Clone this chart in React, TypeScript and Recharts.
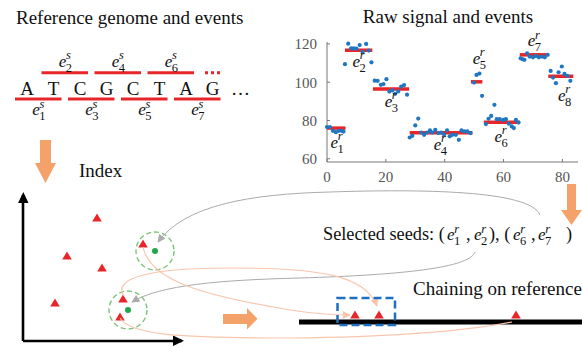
import React from 'react';
import { ScatterChart, Scatter, XAxis, YAxis, ReferenceLine } from 'recharts';

const SERIF = '"Liberation Serif", "Times New Roman", serif';
const RED = '#E8262A';
const BLUE = '#1F76C2';
const ORANGE = '#F4A26A';
const GREEN = '#1FA84A';
const GREEN_RING = '#7CC47C';
const SALMON = '#F8C6AE';
const GRAY = '#ABABAB';

// ---- Raw signal panel ----
const signalX = [
  0, 1, 2, 3, 4, 5, 5.6,
  6.1, 7.2, 8.2, 9.1, 10, 11.1, 12.1, 13.3, 14.2, 15.1,
  16.2, 17.2, 18.3, 19.2, 20.2, 21.2, 22.2, 23.2, 24.2, 25.2, 26.2, 27.2,
  28.1, 29, 30, 31, 32, 33, 34, 35, 35.8, 36.8, 37.9, 38.8, 39.8, 40.8, 41.7, 42.6, 43.8, 44.8, 45.7, 46.7, 47.7, 48.8,
  50, 50.8, 51.8, 52.7,
  54, 54.9, 55.8, 56.9, 57.7, 58.7, 59.9, 60.8, 61.8, 62.8, 63.5, 64.2, 65.1,
  65.8, 66.4, 67.1, 68, 68.9, 70, 71, 72, 73, 74, 75,
  76, 76.8, 77.8, 78.7, 79.8, 80.7, 81.7, 82.7,
];
const signalY = [
  76.6, 76.6, 74.6, 73.9, 74.6, 74.6, 74.2,
  109.4, 120.1, 117.7, 117.7, 117.5, 119.4, 115.8, 120, 116.5, 110.4,
  100.8, 100.7, 98.6, 99, 101.6, 95.1, 95.7, 93.9, 95.2, 97.7, 98.5, 93.5,
  71.1, 72, 77.4, 81, 73.7, 72.5, 73.7, 74.8, 73.7, 75.1, 73.4, 73.7, 72.5, 74.8, 71.7, 72.5, 72.5, 69.9, 74.8, 74.3, 74.3, 73.4,
  99.8, 103.8, 104.5, 92.9,
  78.1, 80.9, 82.4, 88.2, 80.7, 80.7, 80.3, 80.7, 78.3, 76.9, 76, 80.3, 78.9,
  112.5, 112, 111.7, 115.1, 113.4, 113, 113.7, 113, 113.4, 113, 114.3,
  105.9, 102.4, 99.5, 105.2, 108.2, 104.3, 103.3, 100.7,
];
const eventStart = [0, 6.1, 15.6, 28.1, 48.9, 53.3, 65.5, 75.2];
const eventEnd = [6.3, 15.4, 27.9, 49.4, 52.8, 65.5, 74.6, 83.7];
const eventLevel = [76.0, 116.7, 96.5, 73.6, 100.2, 79.1, 114.3, 103.1];
const eventLabelX = [1.2, 8.7, 19.6, 36.3, 49.5, 56.9, 68.2, 78.5];
const eventLabelY = [65.7, 108, 87.1, 64.7, 109.6, 68.9, 118.9, 90.3];
const xTicks = [0, 20, 40, 60, 80];
const yTicks = [60, 80, 100, 120];

// ---- Reference genome ----
const bases = ['A', 'T', 'C', 'G', 'C', 'T', 'A', 'G'];
const bottomEvents = [1, 3, 5, 7];
const topEvents = [2, 4, 6];

// ---- Index panel ----
const kmerX = [74, 44, 79, 32, 120, 100, 97];
const kmerY = [123, 85, 73, 38, 97, 42, 24];
const seedX = [132, 105];
const seedY = [90, 31];

// ---- Chaining panel ----
const chainX = [56, 80, 217];
const chainY = [7, 7, 7];

const signalData = signalX.map((x, i) => ({ x, y: signalY[i] }));
const labelData = eventLabelX.map((x, i) => ({ x, y: eventLabelY[i], idx: i + 1 }));
const kmerData = kmerX.map((x, i) => ({ x, y: kmerY[i] }));
const seedData = seedX.map((x, i) => ({ x, y: seedY[i] }));
const chainData = chainX.map((x, i) => ({ x, y: chainY[i] }));

function MathE({ x, y, sup, sub, size = 17 }: { x: number; y: number; sup: string; sub: string; size?: number }) {
  return (
    <g>
      <text x={x} y={y} fontFamily={SERIF} fontStyle="italic" fontSize={size} fill="#111">e</text>
      <text x={x + 7.2} y={y - 7.5} fontFamily={SERIF} fontStyle="italic" fontSize={12.5} fill="#111">{sup}</text>
      <text x={x + 7} y={y + 5} fontFamily={SERIF} fontSize={12.5} fill="#111">{sub}</text>
    </g>
  );
}

const dotShape = (p: any) => <circle cx={p.cx} cy={p.cy} r={2.1} fill={BLUE} />;
const labelShape = (p: any) => <MathE x={p.cx} y={p.cy} sup="r" sub={String(p.payload.idx)} />;
const triShape = (p: any) => (
  <path d={`M${p.cx},${p.cy - 4.5} L${p.cx + 4.8},${p.cy + 3.6} L${p.cx - 4.8},${p.cy + 3.6} Z`} fill={RED} />
);
const seedShape = (p: any) => (
  <g>
    <circle cx={p.cx} cy={p.cy} r={19} fill="none" stroke={GREEN_RING} strokeWidth={1.4} strokeDasharray="5 3" />
    <circle cx={p.cx} cy={p.cy} r={3} fill={GREEN} />
  </g>
);

function SignalChart() {
  return (
    <ScatterChart width={292} height={170} margin={{ top: 22, right: 4, bottom: 0, left: 0 }}>
      <XAxis
        type="number"
        dataKey="x"
        domain={[0, 85.3]}
        ticks={xTicks}
        height={28}
        tickSize={-3}
        tickMargin={12}
        stroke="#777"
        tick={{ fill: '#555', fontSize: 15, fontFamily: SERIF }}
      />
      <YAxis
        type="number"
        dataKey="y"
        domain={[58.3, 121]}
        ticks={yTicks}
        width={37}
        tickSize={-3}
        tickMargin={13}
        stroke="#777"
        tick={{ fill: '#555', fontSize: 15, fontFamily: SERIF }}
      />
      <Scatter data={signalData} shape={dotShape} isAnimationActive={false} />
      {eventStart.map((s, i) => (
        <ReferenceLine
          key={i}
          segment={[{ x: s, y: eventLevel[i] }, { x: eventEnd[i], y: eventLevel[i] }]}
          stroke={RED}
          strokeWidth={3.5}
        />
      ))}
      <Scatter data={labelData} shape={labelShape} isAnimationActive={false} />
    </ScatterChart>
  );
}

function IndexChart() {
  return (
    <ScatterChart width={190} height={157} margin={{ top: 5, right: 8, bottom: 5, left: 22 }}>
      <XAxis type="number" dataKey="x" domain={[0, 159]} height={1} tick={false} tickLine={false}
        axisLine={{ stroke: '#000', strokeWidth: 2.6 }} />
      <YAxis type="number" dataKey="y" domain={[0, 146]} width={1} tick={false} tickLine={false}
        axisLine={{ stroke: '#000', strokeWidth: 2.6 }} />
      <Scatter data={kmerData} shape={triShape} isAnimationActive={false} />
      <Scatter data={seedData} shape={seedShape} isAnimationActive={false} />
    </ScatterChart>
  );
}

function ChainChart() {
  return (
    <ScatterChart width={283} height={30} margin={{ top: 0, right: 0, bottom: 7, left: 0 }}>
      <XAxis type="number" dataKey="x" domain={[0, 283]} height={1} tick={false} tickLine={false}
        axisLine={{ stroke: '#000', strokeWidth: 5 }} />
      <YAxis type="number" dataKey="y" domain={[0, 22]} width={0} hide />
      <Scatter data={chainData} shape={triShape} isAnimationActive={false} />
    </ScatterChart>
  );
}

function Overlay() {
  const letterX = (i: number) => 27 + 26.5 * i;
  const evStart = (k: number) => letterX(k - 1) - 12;
  const evEnd = (k: number) => letterX(k) + 8;
  const T = { fontFamily: SERIF, fontSize: 19, fill: '#111' };
  const S = { fontFamily: SERIF, fontSize: 18.3, fill: '#111' };
  return (
    <svg width={582} height={347} style={{ position: 'absolute', left: 0, top: 0, pointerEvents: 'none' }}>
      <defs>
        <marker id="ag" viewBox="0 0 10 10" refX="9" refY="5" markerWidth="9" markerHeight="8" markerUnits="userSpaceOnUse" orient="auto">
          <path d="M0,0 L10,5 L0,10 z" fill={GRAY} />
        </marker>
        <marker id="as" viewBox="0 0 10 10" refX="9" refY="5" markerWidth="9" markerHeight="8" markerUnits="userSpaceOnUse" orient="auto">
          <path d="M0,0 L10,5 L0,10 z" fill={SALMON} />
        </marker>
      </defs>
      {/* titles */}
      <text x={16} y={24} {...T}>Reference genome and events</text>
      <text x={448} y={23} textAnchor="middle" {...T}>Raw signal and events</text>

      {/* genome */}
      {bases.map((b, i) => (
        <text key={i} x={letterX(i)} y={94.5} textAnchor="middle" {...T}>{b}</text>
      ))}
      <text x={231} y={94.5} {...T}>…</text>
      {bottomEvents.map((k) => (
        <g key={'b' + k}>
          <line x1={evStart(k)} x2={evEnd(k)} y1={99} y2={99} stroke={RED} strokeWidth={3} />
          <MathE x={(evStart(k) + evEnd(k)) / 2 - 6} y={115} sup="s" sub={String(k)} />
        </g>
      ))}
      {topEvents.map((k) => (
        <g key={'t' + k}>
          <line x1={evStart(k)} x2={evEnd(k)} y1={72.7} y2={72.7} stroke={RED} strokeWidth={3} />
          <MathE x={(evStart(k) + evEnd(k)) / 2 - 6} y={66.5} sup="s" sub={String(k)} />
        </g>
      ))}
      <line x1={205} x2={221} y1={72.7} y2={72.7} stroke={RED} strokeWidth={3} strokeDasharray="3 3" />

      {/* index */}
      <polygon points="40,140 51,140 51,163 56,163 45.5,183 35,163 40,163" fill={ORANGE} />
      <text x={79} y={176.5} {...T}>Index</text>
      <polygon points="23.3,192 28.5,203 18.1,203" fill="#000" />
      <polygon points="184,340.7 173,335.5 173,345.9" fill="#000" />
      <polygon points="223,314 247,314 247,308 257.5,318.8 247,329.5 247,324 223,324" fill={ORANGE} />

      {/* right arrow */}
      <polygon points="567,184 576,184 576,210 582,210 571.5,225 561,210 567,210" fill={ORANGE} />

      {/* curves */}
      <path d="M540,215 C530,190 420,189 330,192 C250,194 185,205 158,242" fill="none" stroke={GRAY} strokeWidth={1} markerEnd="url(#ag)" />
      <path d="M475,252 C470,268 400,275 300,278 C220,280 160,285 132,302" fill="none" stroke={GRAY} strokeWidth={1} markerEnd="url(#ag)" />
      <path d="M124,296 C112,278 150,268 230,268 C320,268 365,275 377,306" fill="none" stroke={SALMON} strokeWidth={1.2} markerEnd="url(#as)" />
      <path d="M143,247 C150,280 200,295 290,310 C310,313 330,315 350,315" fill="none" stroke={SALMON} strokeWidth={1.2} markerEnd="url(#as)" />
      <path d="M120,318 C130,335 180,338 290,338 C400,337 470,330 512,322" fill="none" stroke={SALMON} strokeWidth={1.2} />

      {/* selected seeds */}
      <text x={323} y={240} {...S}>Selected seeds: (</text>
      <MathE x={447} y={240} sup="r" sub="1" />
      <text x={466} y={240} {...S}>,</text>
      <MathE x={474} y={240} sup="r" sub="2" />
      <text x={489} y={240} {...S}>), (</text>
      <MathE x={513} y={240} sup="r" sub="6" />
      <text x={531} y={240} {...S}>,</text>
      <MathE x={538} y={240} sup="r" sub="7" />
      <text x={566} y={240} {...S}>)</text>

      {/* chaining */}
      <text x={413} y={295} {...T}>Chaining on reference</text>
      <rect x={337.5} y={298} width={57.5} height={27} fill="none" stroke="#1F6FC0" strokeWidth={2.5} strokeDasharray="8 4" />
    </svg>
  );
}

export default function App() {
  return (
    <div style={{ position: 'absolute', left: 0, top: 0, width: 582, height: 347, background: '#fff', overflow: 'hidden' }}>
      <div style={{ position: 'absolute', left: 290, top: 20 }}>
        <SignalChart />
      </div>
      <div style={{ position: 'absolute', left: 0, top: 190 }}>
        <IndexChart />
      </div>
      <div style={{ position: 'absolute', left: 299, top: 300 }}>
        <ChainChart />
      </div>
      <Overlay />
    </div>
  );
}
